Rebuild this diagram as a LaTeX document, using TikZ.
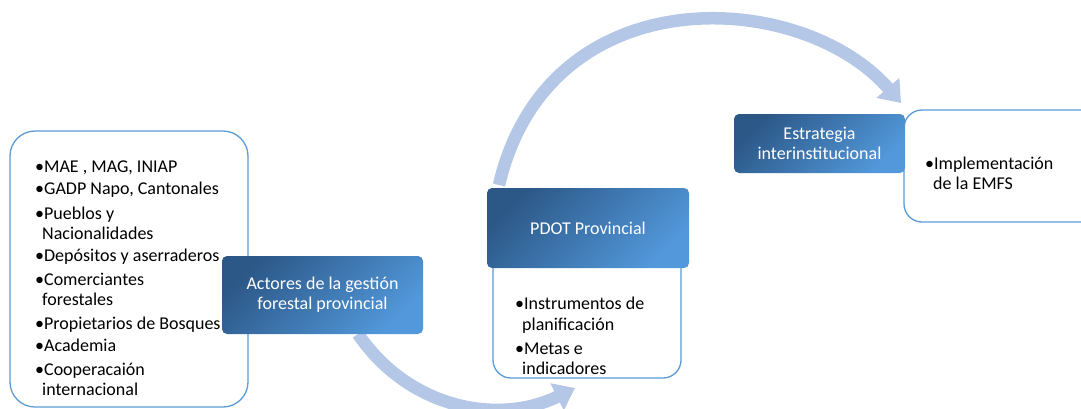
\documentclass[tikz,border=0pt]{standalone}
\usepackage{fontspec}
\setmainfont{Carlito}
\usetikzlibrary{arrows.meta}
\definecolor{hdark}{RGB}{44,88,136}
\definecolor{hlight}{RGB}{82,152,218}
\definecolor{bord}{RGB}{91,155,213}
\definecolor{arr}{RGB}{180,199,231}
\tikzset{
  hdr/.style={rectangle, rounded corners=5pt, top color=hdark, bottom color=hlight, shading angle=45,
    text=white, align=center, font=\fontsize{18}{20}\selectfont, inner sep=0pt},
  wbox/.style={rectangle, draw=bord, line width=1.3pt, fill=white, inner sep=0pt},
  flow/.style={draw=arr, line width=12.5pt, -{Triangle[width=29pt,length=20pt]}},
  item/.style={anchor=base west, inner sep=0pt, font=\fontsize{18}{20}\selectfont},
}
\begin{document}
\begin{tikzpicture}[x=1pt,y=-1pt]
\useasboundingbox (0,0) rectangle (1081,408);
\clip (0,0) rectangle (1081,408);
% connectors
\coordinate (a1) at (358,334);
\coordinate (a2) at (575,388);
\coordinate (b1) at (499,185);
\coordinate (b2) at (901,103);
\draw[flow] (a1) .. controls (410,410) and (500,425) .. (a2);
\draw[flow] (b1) .. controls (548,-25) and (801,-12) .. (b2);
% white boxes
\node[wbox, rounded corners=25pt, minimum width=238pt, minimum height=276pt] (left) at (129,269) {};
\node[wbox, rounded corners=18pt, minimum width=188pt, minimum height=138pt] (mid) at (587,309) {};
\node[wbox, rounded corners=18pt, minimum width=200pt, minimum height=112pt] (right) at (1004,166) {};
% header boxes
\node[hdr, minimum width=201pt, minimum height=78pt] (actores) at (322.5,295) {Actores de la gestión\\forestal provincial};
\node[hdr, minimum width=202pt, minimum height=80pt] (pdot) at (588,228) {PDOT Provincial};
\node[hdr, minimum width=171pt, minimum height=59pt] (estr) at (819.5,143.5) {Estrategia\\interinstitucional};
% left list
\node[item] (l1) at (35,172) {•MAE , MAG, INIAP};
\node[item] (l2) at (35,194.5) {•GADP Napo, Cantonales};
\node[item] (l3) at (35,219) {•Pueblos y};
\node[item] (l3b) at (42,239) {Nacionalidades};
\node[item] (l4) at (35,261) {•Depósitos y aserraderos};
\node[item] (l5) at (35,285) {•Comerciantes};
\node[item] (l5b) at (42,305) {forestales};
\node[item] (l6) at (35,329) {•Propietarios de Bosques};
\node[item] (l7) at (35,351.5) {•Academia};
\node[item] (l8) at (35,375) {•Cooperacaión};
\node[item] (l8b) at (42,395) {internacional};
% mid list
\node[item] (m1) at (515,309.5) {•Instrumentos de};
\node[item] (m1b) at (522,330.5) {planificación};
\node[item] (m2) at (515,354) {•Metas e};
\node[item] (m2b) at (522,374) {indicadores};
% right list
\node[item] (r1) at (925,169) {•Implementación};
\node[item] (r1b) at (933,189) {de la EMFS};
\end{tikzpicture}
\end{document}
